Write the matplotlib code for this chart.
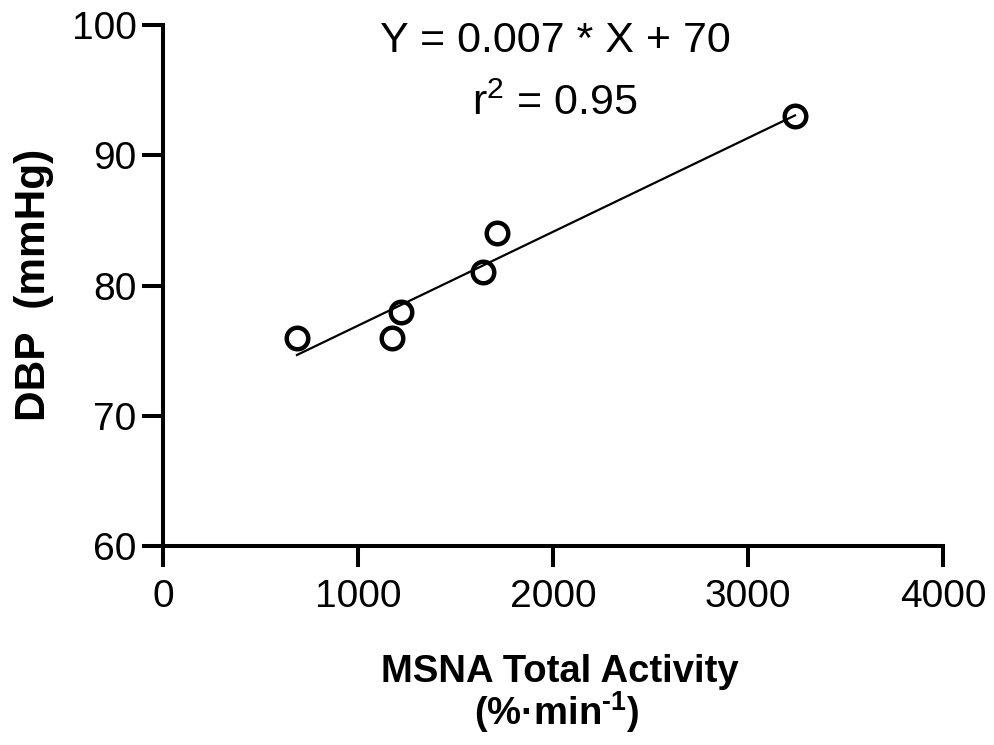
import numpy as np
import matplotlib
matplotlib.use("Agg")
import matplotlib.pyplot as plt

plt.rcParams['font.family'] = ['Liberation Sans', 'DejaVu Sans']
plt.rcParams['mathtext.fontset'] = 'custom'
plt.rcParams['mathtext.rm'] = 'Liberation Sans'
plt.rcParams['mathtext.bf'] = 'Liberation Sans:bold'
plt.rcParams['mathtext.default'] = 'regular'

msna = [687, 1174, 1221, 1641, 1713, 3241]
dbp = [76, 76, 78, 81, 84, 93]
xticks = [0, 1000, 2000, 3000, 4000]
yticks = [60, 70, 80, 90, 100]

W, H = 994, 745
fig = plt.figure(figsize=(W / 100, H / 100), dpi=100)
ax = fig.add_axes([163 / W, 1 - 546 / H, (943 - 163) / W, (546 - 25) / H])

slope, intercept = np.polyfit(msna, dbp, 1)
xl = np.array([min(msna), max(msna)])
ax.plot(xl, slope * xl + intercept, color='black', lw=1.6, zorder=2)
ax.plot(msna, dbp, 'o', ms=15.5, mfc='none', mec='black', mew=3.2, zorder=3, clip_on=False)

ax.set_xlim(0, 4000)
ax.set_ylim(60, 100)
ax.set_xticks(xticks)
ax.set_yticks(yticks)
for s in ['top', 'right']:
    ax.spines[s].set_visible(False)
for s in ['left', 'bottom']:
    ax.spines[s].set_linewidth(2.9)
    ax.spines[s].set_capstyle('projecting')
ax.tick_params(axis='both', length=15, width=2.9, labelsize=28)
ax.tick_params(axis='x', pad=9)
ax.tick_params(axis='y', pad=4)

fig.text(555 / W, 1 - 52 / H, 'Y = 0.007 * X + 70', ha='center', va='baseline', fontsize=31)
fig.text(555 / W, 1 - 115 / H, r'r$^{2}$ = 0.95', ha='center', va='baseline', fontsize=31)

fig.text(560 / W, 1 - 682 / H, 'MSNA Total Activity', ha='center', va='baseline',
         fontsize=27.5, fontweight='bold')
fig.text(557 / W, 1 - 725 / H, '(%·min$^{\\mathbf{\u2010}\\mathbf{1}}$)', ha='center', va='baseline',
         fontsize=27.5, fontweight='bold')
fig.text(34 / W, 1 - 285 / H, 'DBP  (mmHg)', ha='center', va='center', rotation=90,
         fontsize=30.5, fontweight='bold')

fig.savefig('out.png', dpi=100)
